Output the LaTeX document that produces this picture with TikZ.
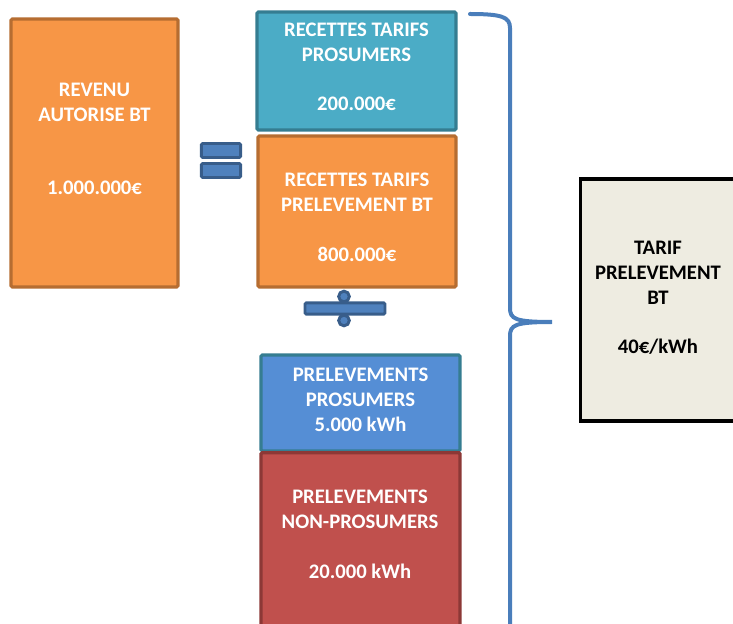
\documentclass[tikz,border=0pt]{standalone}
\usepackage{fontspec}
\setmainfont{Carlito}
\definecolor{orfill}{HTML}{F79646}
\definecolor{ordraw}{HTML}{B66D31}
\definecolor{tqfill}{HTML}{4BACC6}
\definecolor{tqdraw}{HTML}{357D91}
\definecolor{blfill}{HTML}{558ED5}
\definecolor{rdfill}{HTML}{C0504D}
\definecolor{rddraw}{HTML}{8C3836}
\definecolor{tafill}{HTML}{EEECE1}
\definecolor{symfill}{HTML}{4F81BD}
\definecolor{symdraw}{HTML}{385D8A}
\definecolor{bracecol}{HTML}{4A7EBB}
\begin{document}
\begin{tikzpicture}[x=0.75pt,y=-0.75pt,
  box/.style={draw,line width=2.4pt,rounded corners=1pt,inner sep=0pt},
  orbox/.style={box,fill=orfill,draw=ordraw},
  tqbox/.style={box,fill=tqfill,draw=tqdraw},
  blbox/.style={box,fill=blfill,draw=tqdraw},
  rdbox/.style={box,fill=rdfill,draw=rddraw},
  tabox/.style={box,fill=tafill,draw=black,line width=2.6pt,rounded corners=0pt},
  txt/.style={align=center,font=\fontsize{15.5}{18.75}\selectfont\bfseries,text=white,inner sep=0pt},
  symbox/.style={draw=symdraw,fill=symfill,line width=2.2pt,rounded corners=1pt,inner sep=0pt},
  bracestyle/.style={draw=bracecol,line width=3pt}]
\useasboundingbox (0,0) rectangle (733,624);
\clip (0,0) rectangle (733,624);
% boxes
\node[orbox,minimum width=125.25pt,minimum height=201pt] (rev) at (94.5,153) {};
\node[tqbox,minimum width=149.25pt,minimum height=88.5pt] (rtp) at (356.5,71) {};
\node[orbox,minimum width=148.5pt,minimum height=113.25pt] (rtb) at (357,211.5) {};
\node[blbox,minimum width=149.25pt,minimum height=72pt] (pp) at (360.5,403) {};
\node[rdbox,minimum width=149.25pt,minimum height=140pt] (pnp) at (360.5,546) {};
\node[tabox,minimum width=118pt,minimum height=181.5pt] (tar) at (659,300) {};
% texts
\node[txt] (trev) at (94.5,139) {REVENU\\AUTORISE BT\\[36pt]1.000.000€};
\node[txt] (trtp) at (356.5,67) {RECETTES TARIFS\\PROSUMERS\\[18pt]200.000€};
\node[txt] (trtb) at (357,217.5) {RECETTES TARIFS\\PRELEVEMENT BT\\[18.75pt]800.000€};
\node[txt] (tpp) at (360.5,399.5) {PRELEVEMENTS\\PROSUMERS\\5.000 kWh};
\node[txt] (tpnp) at (360,534.5) {PRELEVEMENTS\\NON-PROSUMERS\\[19pt]20.000 kWh};
\node[txt,text=black] (ttar) at (658,298) {TARIF\\PRELEVEMENT\\BT\\[18pt]40€/kWh};
% equals sign
\node[symbox,minimum width=29.5pt,minimum height=10.5pt] (eqa) at (221,150.5) {};
\node[symbox,minimum width=29.5pt,minimum height=10.5pt] (eqb) at (221,170.5) {};
% division sign
\node[symbox,minimum width=60pt,minimum height=8.5pt] (divbar) at (345,308.5) {};
\node[symbox,circle,minimum size=8pt] (dota) at (344,296.5) {};
\node[symbox,circle,minimum size=8pt] (dotb) at (344,320.5) {};
% brace
\coordinate (bt) at (470,14);
\coordinate (btip) at (552,322);
\coordinate (bb) at (510,640);
\draw[bracestyle,line cap=round] (bt) .. controls (502,14) and (510,17) .. (510,28) -- (510,308)
   .. controls (510,319) and (515,322) .. (btip)
   .. controls (515,322) and (510,325) .. (510,336) -- (bb);
\end{tikzpicture}
\end{document}
